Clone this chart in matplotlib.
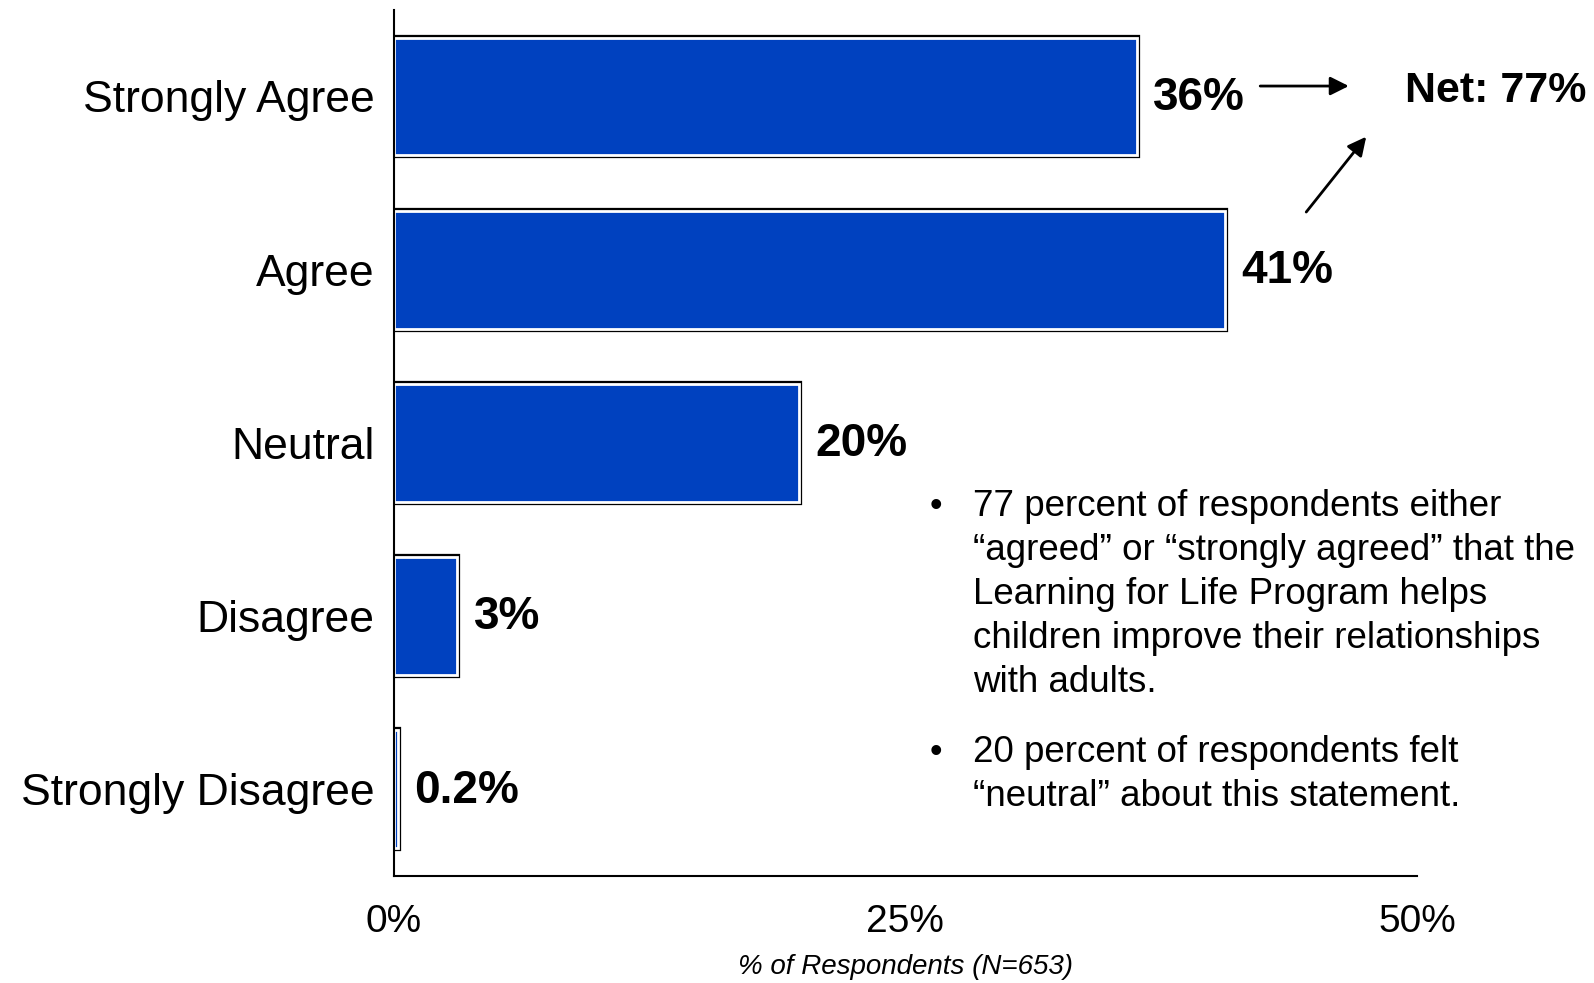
import matplotlib
matplotlib.use("Agg")
import matplotlib.pyplot as plt
import matplotlib.patheffects as pe
from matplotlib import font_manager

# 数据
categories = ["Strongly Agree", "Agree", "Neutral", "Disagree", "Strongly Disagree"]
values = [36.3, 40.6, 19.8, 3.1, 0.2]
value_labels = ["36%", "41%", "20%", "3%", "0.2%"]
x_ticks = [0, 25, 50]
x_tick_labels = ["0%", "25%", "50%"]
net_label = "Net: 77%"
bullets = [
    "77 percent of respondents either\n\u201cagreed\u201d or \u201cstrongly agreed\u201d that the\n"
    "Learning for Life Program helps\nchildren improve their relationships\nwith adults.",
    "20 percent of respondents felt\n\u201cneutral\u201d about this statement.",
]
x_label = "% of Respondents (N=653)"

plt.rcParams["font.family"] = ["Liberation Sans", "DejaVu Sans"]

# 窄体字（如果有的话）
try:
    font_manager.findfont("Liberation Sans Narrow", fallback_to_default=False)
    narrow = "Liberation Sans Narrow"
    narrow_ok = True
except Exception:
    narrow = "Liberation Sans"
    narrow_ok = False

fig = plt.figure(figsize=(15.94, 9.83), dpi=100)
ax = fig.add_axes([0.247, 0.109, 0.642, 0.881])

y_pos = list(range(len(categories)))[::-1]
bars = ax.barh(y_pos, values, height=0.68, color="#0041BF",
               edgecolor="white", linewidth=2)
for b in bars:
    b.set_path_effects([pe.Stroke(linewidth=4.5, foreground="black"), pe.Normal()])

for y, v, lab in zip(y_pos, values, value_labels):
    ax.annotate(lab, xy=(v, y), xytext=(12, -1), textcoords="offset points",
                ha="left", va="center", fontsize=33, fontweight="bold")

ax.set_xlim(0, 50)
ax.set_ylim(-0.5, 4.5)
ax.set_yticks(y_pos)
ax.set_yticklabels(categories, fontsize=32)
ax.set_xticks(x_ticks)
ax.set_xticklabels(x_tick_labels, fontsize=28 if not narrow_ok else 33,
                   family=narrow)
ax.tick_params(axis="both", length=0)
ax.tick_params(axis="x", pad=20)
ax.tick_params(axis="y", pad=14)
ax.spines["top"].set_visible(False)
ax.spines["right"].set_visible(False)
ax.spines["left"].set_linewidth(1.5)
ax.spines["bottom"].set_linewidth(1.5)
ax.set_xlabel(x_label, fontsize=23 if narrow_ok else 20, style="italic",
              family=narrow, labelpad=10)

# 箭头
ax.annotate("", xy=(46.8, 4.06), xytext=(42.2, 4.06),
            arrowprops=dict(arrowstyle="-|>", color="black", lw=2, mutation_scale=28),
            annotation_clip=False)
ax.annotate("", xy=(47.6, 3.78), xytext=(44.5, 3.32),
            arrowprops=dict(arrowstyle="-|>", color="black", lw=2, mutation_scale=28),
            annotation_clip=False)
ax.text(49.4, 4.03, net_label, fontsize=31, fontweight="bold",
        ha="left", va="center", clip_on=False)

# 说明文字
bullet_y = [0.503, 0.252]
for by, txt in zip(bullet_y, bullets):
    fig.text(0.583, by, "\u2022", fontsize=26, va="top", ha="left")
    fig.text(0.6104, by, txt, fontsize=26.5, va="top", ha="left", linespacing=1.34)

plt.savefig("out.png", dpi=100)
